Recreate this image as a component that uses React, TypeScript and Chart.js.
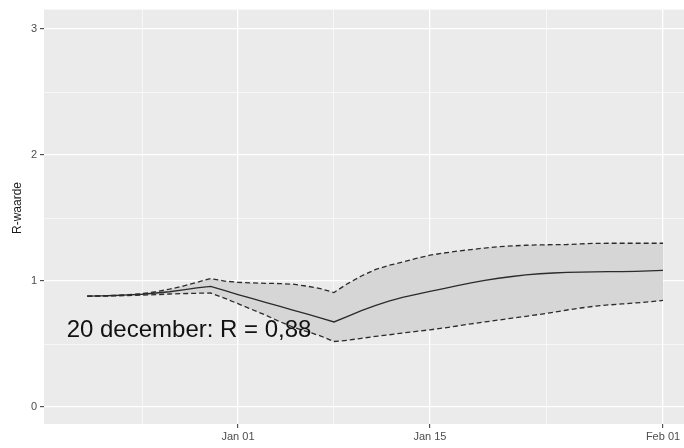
import React, { useEffect, useRef } from "react";
import { Chart, registerables } from "chart.js";

Chart.register(...registerables);

// Days relative to Jan 01 (Dec 21 = -11 ... Feb 01 = 31)
const days: number[] = [
  -11, -10, -9, -8, -7, -6, -5, -4, -3, -2, -1, 0, 1, 2, 3, 4, 5, 6, 7, 8, 9, 10,
  11, 12, 13, 14, 15, 16, 17, 18, 19, 20, 21, 22, 23, 24, 25, 26, 27, 28, 29, 30, 31,
];

const rCentral: number[] = [
  0.88, 0.882, 0.885, 0.89, 0.895, 0.905, 0.915, 0.93, 0.945, 0.958, 0.925, 0.893,
  0.862, 0.83, 0.8, 0.77, 0.74, 0.707, 0.675, 0.72, 0.765, 0.805, 0.84, 0.87, 0.895,
  0.918, 0.94, 0.963, 0.985, 1.005, 1.022, 1.036, 1.049, 1.058, 1.064, 1.068, 1.071,
  1.073, 1.074, 1.075, 1.077, 1.08, 1.084,
];

const rUpper: number[] = [
  0.88, 0.882, 0.886, 0.892, 0.9, 0.915, 0.935, 0.96, 0.99, 1.02, 1.0, 0.99, 0.985,
  0.982, 0.98, 0.975, 0.96, 0.94, 0.909, 0.98, 1.04, 1.09, 1.125, 1.15, 1.18, 1.205,
  1.222, 1.238, 1.25, 1.262, 1.272, 1.279, 1.284, 1.287, 1.289, 1.29, 1.295, 1.299,
  1.3, 1.3, 1.3, 1.3, 1.3,
];

const rLower: number[] = [
  0.88, 0.88, 0.882, 0.885, 0.888, 0.892, 0.897, 0.9, 0.903, 0.905, 0.865, 0.82,
  0.775, 0.73, 0.68, 0.635, 0.6, 0.565, 0.52, 0.53, 0.545, 0.56, 0.573, 0.587, 0.6,
  0.613, 0.627, 0.643, 0.66, 0.675, 0.69, 0.706, 0.72, 0.735, 0.752, 0.77, 0.786,
  0.8, 0.81, 0.818, 0.826, 0.835, 0.846,
];

const xTickValues: number[] = [-7, 0, 7, 14, 22.5, 31];
const xTickLabels: Record<string, string> = { "0": "Jan 01", "14": "Jan 15", "31": "Feb 01" };
const yTickValues: number[] = [0, 0.5, 1, 1.5, 2, 2.5, 3];
const yTitle = "R-waarde";
const annotationText = "20 december: R = 0,88";
const annotationX = -3.57;
const annotationY = 0.605;

const FONT = "'Liberation Sans', Arial, sans-serif";

const isMajorX = (v: number) => xTickLabels[String(v)] !== undefined;
const isMajorY = (v: number) => Number.isInteger(v);

const panelPlugin = {
  id: "panelBg",
  beforeDraw(chart: any) {
    const { ctx, chartArea } = chart;
    ctx.save();
    ctx.fillStyle = "#EBEBEB";
    ctx.fillRect(chartArea.left, chartArea.top, chartArea.right - chartArea.left, chartArea.bottom - chartArea.top);
    ctx.restore();
  },
  afterDraw(chart: any) {
    const { ctx } = chart;
    const xs = chart.scales.x;
    const ys = chart.scales.y;
    ctx.save();
    ctx.fillStyle = "#111111";
    ctx.font = `24px ${FONT}`;
    ctx.textAlign = "center";
    ctx.textBaseline = "middle";
    ctx.fillText(annotationText, xs.getPixelForValue(annotationX), ys.getPixelForValue(annotationY));
    ctx.translate(18, 208);
    ctx.rotate(-Math.PI / 2);
    ctx.font = `12px ${FONT}`;
    ctx.fillStyle = "#1a1a1a";
    ctx.fillText(yTitle, 0, 0);
    ctx.restore();
  },
};

export default function App() {
  const ref = useRef<HTMLCanvasElement | null>(null);
  useEffect(() => {
    if (!ref.current) return;
    const mk = (arr: number[]) => days.map((d, i) => ({ x: d, y: arr[i] }));
    const chart = new Chart(ref.current, {
      type: "line",
      data: {
        datasets: [
          {
            data: mk(rCentral),
            borderColor: "#2b2b2b",
            borderWidth: 1.3,
            pointRadius: 0,
            fill: false,
            tension: 0,
            order: 0,
          },
          {
            data: mk(rUpper),
            borderColor: "#2b2b2b",
            borderWidth: 1.3,
            borderDash: [5, 3],
            pointRadius: 0,
            fill: "+1",
            backgroundColor: "#D6D6D6",
            tension: 0,
            order: 1,
          },
          {
            data: mk(rLower),
            borderColor: "#2b2b2b",
            borderWidth: 1.3,
            borderDash: [5, 3],
            pointRadius: 0,
            fill: false,
            tension: 0,
            order: 2,
          },
        ],
      },
      options: {
        responsive: false,
        animation: false,
        devicePixelRatio: 1,
        layout: { padding: { top: 5, right: 0, left: 0, bottom: 0 } },
        plugins: {
          legend: { display: false },
          tooltip: { enabled: false },
          filler: { drawTime: "beforeDatasetsDraw" },
        },
        scales: {
          x: {
            type: "linear",
            min: -14.15,
            max: 32.53,
            afterBuildTicks: (s: any) => {
              s.ticks = xTickValues.map((v) => ({ value: v }));
            },
            afterFit: (s: any) => {
              s.height = 24;
            },
            border: { display: false },
            grid: {
              color: "#FFFFFF",
              lineWidth: (c: any) => (isMajorX(c.tick?.value) ? 1.3 : 0.6),
              tickLength: 4,
              tickColor: (c: any) => (isMajorX(c.tick?.value) ? "#333333" : "rgba(0,0,0,0)"),
              tickWidth: 1,
            },
            ticks: {
              autoSkip: false,
              maxRotation: 0,
              padding: 2,
              color: "#4D4D4D",
              font: { family: FONT, size: 11 },
              callback: (v: any) => xTickLabels[String(v)] ?? "",
            },
          },
          y: {
            type: "linear",
            min: -0.135,
            max: 3.155,
            afterBuildTicks: (s: any) => {
              s.ticks = yTickValues.map((v) => ({ value: v }));
            },
            afterFit: (s: any) => {
              s.width = 44;
            },
            border: { display: false },
            grid: {
              color: "#FFFFFF",
              lineWidth: (c: any) => (isMajorY(c.tick?.value) ? 1.3 : 0.6),
              tickLength: 4,
              tickColor: (c: any) => (isMajorY(c.tick?.value) ? "#333333" : "rgba(0,0,0,0)"),
              tickWidth: 1,
            },
            ticks: {
              autoSkip: false,
              padding: 3,
              color: "#4D4D4D",
              font: { family: FONT, size: 11 },
              callback: (v: any) => (Number.isInteger(v) ? String(v) : ""),
            },
          },
        },
      },
      plugins: [panelPlugin],
    });
    return () => chart.destroy();
  }, []);
  return (
    <div style={{ position: "absolute", left: 0, top: 0, width: 684, height: 448, background: "#fff" }}>
      <canvas ref={ref} width={684} height={448} style={{ display: "block" }} />
    </div>
  );
}
